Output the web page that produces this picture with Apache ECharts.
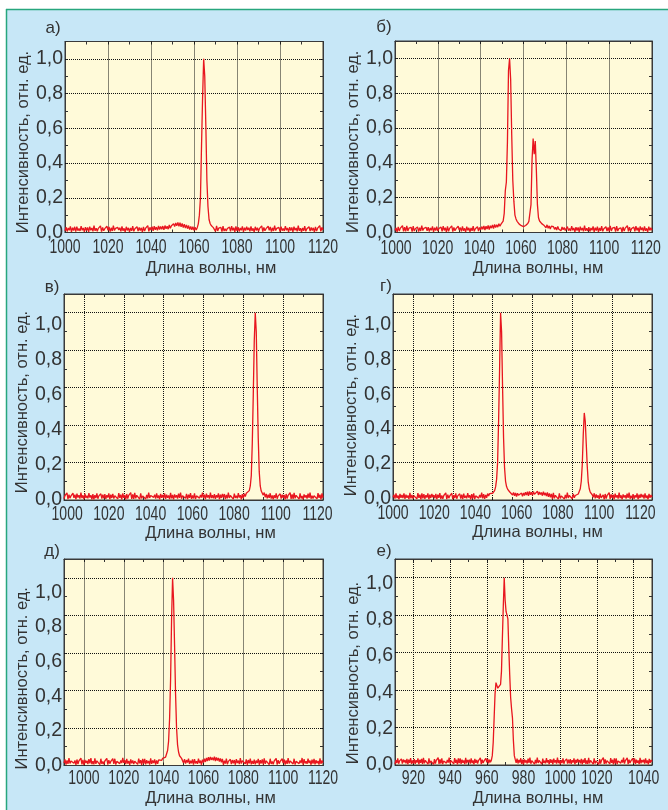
<!DOCTYPE html>
<html>
<head>
<meta charset="utf-8">
<script src="https://cdn.jsdelivr.net/npm/echarts@6/dist/echarts.min.js"></script>
<style>
  html, body { margin: 0; padding: 0; background: #ffffff; }
  #chart { width: 668px; height: 810px; }
</style>
</head>
<body>
<div id="chart"></div>
<script>
// Спектры генерации (интенсивность ×1000, отн. ед.), шаг 0,5 нм.
// Каждая строка массива — 10 отсчётов (5 нм), в комментарии — начальная длина волны.
const STEP_NM = 0.5;
const panelLetters = ['а)', 'б)', 'в)', 'г)', 'д)', 'е)'];
const startNm = [1000, 1000, 990, 990, 990, 910];

const spectrumA = [
  /*1000*/ 9,31,6,26,13,35,4,28,11,33,
  /*1005*/ 5,34,11,23,9,37,13,26,4,31,
  /*1010*/ 11,29,4,34,13,26,7,40,10,25,
  /*1015*/ 7,24,15,38,5,29,10,22,14,36,
  /*1020*/ 13,32,5,27,9,39,11,24,15,30,
  /*1025*/ 14,28,7,35,10,24,3,33,12,27,
  /*1030*/ 4,26,10,36,7,22,14,33,8,29,
  /*1035*/ 12,27,3,32,8,25,16,39,6,30,
  /*1040*/ 14,33,10,36,16,31,12,38,17,34,
  /*1045*/ 18,37,15,40,21,36,19,43,24,39,
  /*1050*/ 30,50,34,55,38,58,36,56,33,52,
  /*1055*/ 28,48,25,44,22,40,17,35,15,33,
  /*1060*/ 12,30,14,28,50,100,200,500,780,1000,
  /*1065*/ 900,620,300,150,75,52,40,34,28,36,
  /*1070*/ 6,38,9,25,15,30,5,36,8,22,
  /*1075*/ 8,23,14,31,6,37,12,28,3,35,
  /*1080*/ 9,31,6,26,13,35,4,28,11,33,
  /*1085*/ 14,28,7,35,10,24,3,33,12,27,
  /*1090*/ 7,24,15,38,5,29,10,22,14,36,
  /*1095*/ 13,32,5,27,9,39,11,24,15,30,
  /*1100*/ 5,34,11,23,9,37,13,26,4,31,
  /*1105*/ 11,29,4,34,13,26,7,40,10,25,
  /*1110*/ 4,26,10,36,7,22,14,33,8,29,
  /*1115*/ 12,27,3,32,8,25,16,39,6,30,
  /*1120*/ 14
];

const spectrumB = [
  /*1000*/ 12,27,3,32,8,25,16,39,6,30,
  /*1005*/ 6,38,9,25,15,30,5,36,8,22,
  /*1010*/ 13,32,5,27,9,39,11,24,15,30,
  /*1015*/ 9,31,6,26,13,35,4,28,11,33,
  /*1020*/ 8,23,14,31,6,37,12,28,3,35,
  /*1025*/ 7,24,15,38,5,29,10,22,14,36,
  /*1030*/ 14,28,7,35,10,24,3,33,12,27,
  /*1035*/ 4,26,10,36,7,22,14,33,8,29,
  /*1040*/ 15,34,18,38,14,36,20,41,17,39,
  /*1045*/ 25,43,22,46,28,44,31,50,36,48,
  /*1050*/ 52,65,110,240,290,520,930,1000,880,560,
  /*1055*/ 300,180,100,78,64,55,48,43,39,36,
  /*1060*/ 34,37,40,45,52,64,75,160,420,540,
  /*1065*/ 450,525,360,160,85,66,57,51,46,42,
  /*1070*/ 40,27,44,24,38,20,36,25,33,18,
  /*1075*/ 30,14,35,19,27,10,32,16,29,12,
  /*1080*/ 5,34,11,23,9,37,13,26,4,31,
  /*1085*/ 11,29,4,34,13,26,7,40,10,25,
  /*1090*/ 9,31,6,26,13,35,4,28,11,33,
  /*1095*/ 4,26,10,36,7,22,14,33,8,29,
  /*1100*/ 6,38,9,25,15,30,5,36,8,22,
  /*1105*/ 12,27,3,32,8,25,16,39,6,30,
  /*1110*/ 8,23,14,31,6,37,12,28,3,35,
  /*1115*/ 14,28,7,35,10,24,3,33,12,27,
  /*1120*/ 13
];

const spectrumV = [
  /*990*/  7,24,15,38,5,29,10,22,14,36,
  /*995*/  11,29,4,34,13,26,7,40,10,25,
  /*1000*/ 5,34,11,23,9,37,13,26,4,31,
  /*1005*/ 4,26,10,36,7,22,14,33,8,29,
  /*1010*/ 9,31,6,26,13,35,4,28,11,33,
  /*1015*/ 8,23,14,31,6,37,12,28,3,35,
  /*1020*/ 12,27,3,32,8,25,16,39,6,30,
  /*1025*/ 6,38,9,25,15,30,5,36,8,22,
  /*1030*/ 13,32,5,27,9,39,11,24,15,30,
  /*1035*/ 14,28,7,35,10,24,3,33,12,27,
  /*1040*/ 10,35,6,28,12,24,5,38,9,27,
  /*1045*/ 3,30,13,25,8,34,11,39,7,23,
  /*1050*/ 15,26,9,33,4,29,12,37,6,24,
  /*1055*/ 8,36,5,22,14,31,10,27,13,40,
  /*1060*/ 11,29,4,34,13,26,7,40,10,25,
  /*1065*/ 9,31,6,26,13,35,4,28,11,33,
  /*1070*/ 13,32,5,27,9,39,11,24,15,30,
  /*1075*/ 5,34,11,23,9,37,13,26,4,31,
  /*1080*/ 10,34,18,36,30,42,50,75,130,300,
  /*1085*/ 560,850,1000,900,600,330,150,75,48,38,
  /*1090*/ 26,40,14,33,9,28,12,36,7,25,
  /*1095*/ 4,26,10,36,7,22,14,33,8,29,
  /*1100*/ 12,27,3,32,8,25,16,39,6,30,
  /*1105*/ 6,38,9,25,15,30,5,36,8,22,
  /*1110*/ 3,30,13,25,8,34,11,39,7,23,
  /*1115*/ 8,23,14,31,6,37,12,28,3,35,
  /*1120*/ 12
];

const spectrumG = [
  /*990*/  14,28,7,35,10,24,3,33,12,27,
  /*995*/  10,35,6,28,12,24,5,38,9,27,
  /*1000*/ 8,23,14,31,6,37,12,28,3,35,
  /*1005*/ 9,31,6,26,13,35,4,28,11,33,
  /*1010*/ 15,26,9,33,4,29,12,37,6,24,
  /*1015*/ 7,24,15,38,5,29,10,22,14,36,
  /*1020*/ 4,26,10,36,7,22,14,33,8,29,
  /*1025*/ 5,34,11,23,9,37,13,26,4,31,
  /*1030*/ 8,36,5,22,14,31,10,27,13,40,
  /*1035*/ 9,31,6,27,12,34,22,34,26,38,
  /*1040*/ 36,42,50,70,110,200,420,700,1000,900,
  /*1045*/ 600,330,170,100,72,58,48,44,38,42,
  /*1050*/ 27,40,22,38,18,36,25,33,15,37,
  /*1055*/ 20,38,24,42,26,44,22,46,28,41,
  /*1060*/ 25,45,30,39,24,47,27,43,29,40,
  /*1065*/ 23,44,26,38,21,40,17,35,14,33,
  /*1070*/ 6,38,9,25,15,30,5,36,8,22,
  /*1075*/ 13,32,5,27,9,39,11,24,15,30,
  /*1080*/ 7,33,12,24,22,26,32,42,60,100,
  /*1085*/ 190,350,465,420,300,180,95,60,42,36,
  /*1090*/ 28,14,36,9,30,12,25,6,34,11,
  /*1095*/ 12,27,3,32,8,25,16,39,6,30,
  /*1100*/ 11,29,4,34,13,26,7,40,10,25,
  /*1105*/ 3,30,13,25,8,34,11,39,7,23,
  /*1110*/ 9,31,6,26,13,35,4,28,11,33,
  /*1115*/ 14,28,7,35,10,24,3,33,12,27,
  /*1120*/ 15
];

const spectrumD = [
  /*990*/  13,32,5,27,9,39,11,24,15,30,
  /*995*/  12,27,3,32,8,25,16,39,6,30,
  /*1000*/ 3,30,13,25,8,34,11,39,7,23,
  /*1005*/ 6,38,9,25,15,30,5,36,8,22,
  /*1010*/ 7,24,15,38,5,29,10,22,14,36,
  /*1015*/ 8,36,5,22,14,31,10,27,13,40,
  /*1020*/ 14,28,7,35,10,24,3,33,12,27,
  /*1025*/ 8,23,14,31,6,37,12,28,3,35,
  /*1030*/ 10,35,6,28,12,24,5,38,9,27,
  /*1035*/ 13,32,5,27,9,30,22,35,27,38,
  /*1040*/ 33,42,45,55,80,130,250,460,780,1000,
  /*1045*/ 880,640,380,200,110,72,52,44,38,30,
  /*1050*/ 14,34,10,29,16,37,8,25,12,33,
  /*1055*/ 5,34,11,23,9,37,13,26,4,31,
  /*1060*/ 16,36,19,40,24,44,26,46,30,42,
  /*1065*/ 28,47,24,43,27,40,21,38,17,35,
  /*1070*/ 4,26,10,36,7,22,14,33,8,29,
  /*1075*/ 11,29,4,34,13,26,7,40,10,25,
  /*1080*/ 15,26,9,33,4,29,12,37,6,24,
  /*1085*/ 9,31,6,26,13,35,4,28,11,33,
  /*1090*/ 6,38,9,25,15,30,5,36,8,22,
  /*1095*/ 7,24,15,38,5,29,10,22,14,36,
  /*1100*/ 13,32,5,27,9,39,11,24,15,30,
  /*1105*/ 8,36,5,22,14,31,10,27,13,40,
  /*1110*/ 5,34,11,23,9,37,13,26,4,31,
  /*1115*/ 10,35,6,28,12,24,5,38,9,27,
  /*1120*/ 14
];

const spectrumE = [
  /*910*/  4,26,10,36,7,22,14,33,8,29,
  /*915*/  15,26,9,33,4,29,12,37,6,24,
  /*920*/  9,31,6,26,13,35,4,28,11,33,
  /*925*/  6,38,9,25,15,30,5,36,8,22,
  /*930*/  12,27,3,32,8,25,16,39,6,30,
  /*935*/  8,36,5,22,14,31,10,27,13,40,
  /*940*/  8,23,14,31,6,37,12,28,3,35,
  /*945*/  10,35,6,28,12,24,5,38,9,27,
  /*950*/  14,28,7,35,10,24,3,33,12,27,
  /*955*/  7,24,15,38,5,29,10,22,14,36,
  /*960*/  14,33,9,28,15,26,50,120,250,380,
  /*965*/  440,430,410,400,420,430,500,680,850,1000,
  /*970*/  880,820,830,780,620,480,360,300,250,130,
  /*975*/  50,30,12,34,8,27,13,36,6,29,
  /*980*/  3,30,13,25,8,34,11,39,7,23,
  /*985*/  13,32,5,27,9,39,11,24,15,30,
  /*990*/  5,34,11,23,9,37,13,26,4,31,
  /*995*/  11,29,4,34,13,26,7,40,10,25,
  /*1000*/ 4,26,10,36,7,22,14,33,8,29,
  /*1005*/ 9,31,6,26,13,35,4,28,11,33,
  /*1010*/ 15,26,9,33,4,29,12,37,6,24,
  /*1015*/ 6,38,9,25,15,30,5,36,8,22,
  /*1020*/ 12,27,3,32,8,25,16,39,6,30,
  /*1025*/ 8,23,14,31,6,37,12,28,3,35,
  /*1030*/ 8,36,5,22,14,31,10,27,13,40,
  /*1035*/ 7,24,15,38,5,29,10,22,14,36,
  /*1040*/ 10,35,6,28,12,24,5,38,9,27,
  /*1045*/ 14,28,7,35,10,24,3,33,12,27,
  /*1050*/ 18
];

// Подписи делений и линии сетки
const xLabelsMain = [1000, 1020, 1040, 1060, 1080, 1100, 1120];
const xLabelsE = [920, 940, 960, 980, 1000, 1020, 1040];
const yLabels = [0, 0.2, 0.4, 0.6, 0.8, 1.0];
const xGridAB = [1020, 1040, 1060, 1080, 1100];
const xGridVGD = [1000, 1020, 1040, 1060, 1080, 1100];
const xGridE = [920, 940, 960, 980, 1000, 1020, 1040];
const yGrid = [0.2, 0.4, 0.6, 0.8, 1.0];

const spectra = [spectrumA, spectrumB, spectrumV, spectrumG, spectrumD, spectrumE];
const xGrids = [xGridAB, xGridAB, xGridVGD, xGridVGD, xGridVGD, xGridE];
const xLabelSets = [xLabelsMain, xLabelsMain, xLabelsMain, xLabelsMain, xLabelsMain, xLabelsE];

// Геометрия панелей (px) и диапазоны осей
const layout = [
  { left: 65,  top: 41.5, width: 258, height: 191,   x: [1000, 1120], xLab: [1000, 1120],    yLab: [0, 1.1],       xLabelDy: 15.5, xGap: 27,   xPad: 34, yGap: 32.5, yPad: 10, letter: [53, 28] },
  { left: 395, top: 41,   width: 257, height: 191.5, x: [1000, 1120], xLab: [999.5, 1123],   yLab: [0, 1.1],       xLabelDy: 16,   xGap: 27,   xPad: 29, yGap: 33,   yPad: 10, letter: [384, 27] },
  { left: 64,  top: 294,  width: 259, height: 206,   x: [990, 1120],  xLab: [998.5, 1122.6], yLab: [0, 1.175],     xLabelDy: 15,   xGap: 24.5, xPad: 34, yGap: 32,   yPad: 10, letter: [52, 287] },
  { left: 393, top: 294,  width: 259, height: 206,   x: [990, 1120],  xLab: [1000, 1125.6],  yLab: [-0.01, 1.177], xLabelDy: 13.5, xGap: 23.5, xPad: 30, yGap: 31.5, yPad: 16, letter: [386, 286] },
  { left: 64,  top: 559,  width: 259, height: 206.5, x: [990, 1120],  xLab: [990, 1120],     yLab: [0, 1.193],     xLabelDy: 13.5, xGap: 24,   xPad: 34, yGap: 32,   yPad: 32, letter: [52, 551] },
  { left: 395, top: 559,  width: 257, height: 206,   x: [910, 1050],  xLab: [910, 1050],     yLab: [0, 1.133],     xLabelDy: 14,   xGap: 24.5, xPad: 29, yGap: 33,   yPad: 22, letter: [384, 551], lastLabelShift: 10 }
];

const FONT = "'Liberation Sans', Arial, sans-serif";
const TEXT = '#333333';
const X_LABEL_SIZE = 19.5;   // узкие цифры шкалы длины волны
const X_LABEL_SQUEEZE = 0.72;
const commaDecimal = v => v.toFixed(1).replace('.', ',');

const grids = [], xAxes = [], yAxes = [], series = [];
const graphics = [
  { type: 'rect', shape: { x: 0, y: 0, width: 668, height: 9 }, style: { fill: '#ffffff' }, silent: true },
  { type: 'rect', shape: { x: 0, y: 0, width: 6, height: 810 }, style: { fill: '#ffffff' }, silent: true },
  { type: 'line', shape: { x1: 6, y1: 9.5, x2: 668, y2: 9.5 }, style: { stroke: '#27a67e', lineWidth: 1.5 }, silent: true },
  { type: 'line', shape: { x1: 6.5, y1: 9, x2: 6.5, y2: 810 }, style: { stroke: '#27a67e', lineWidth: 1.5 }, silent: true }
];

layout.forEach((p, i) => {
  grids.push({
    left: p.left, top: p.top, width: p.width, height: p.height,
    show: true, backgroundColor: '#fffad9', borderColor: '#3a3a3a', borderWidth: 1
  });

  const ticks = { show: true, inside: true, length: 3, lineStyle: { color: '#333', width: 1 } };
  const edge = { show: true, onZero: false, lineStyle: { color: '#3a3a3a', width: 1 } };
  const hidden = { axisLabel: { show: false }, splitLine: { show: false } };

  // нижняя (данные) и верхняя оси длины волны — мелкие деления через 10 нм
  xAxes.push({ type: 'value', gridIndex: i, position: 'bottom', min: p.x[0], max: p.x[1], interval: 10, axisLine: edge, axisTick: ticks, ...hidden });
  xAxes.push({ type: 'value', gridIndex: i, position: 'top', min: p.x[0], max: p.x[1], interval: 10, axisLine: edge, axisTick: ticks, ...hidden });
  // шкала подписей длины волны (сами подписи — сжатый текст ниже)
  xAxes.push({
    type: 'value', gridIndex: i, position: 'bottom', min: p.xLab[0], max: p.xLab[1],
    axisLine: { show: false, onZero: false }, axisTick: { show: false }, splitLine: { show: false },
    axisLabel: { show: false },
    name: 'Длина волны, нм', nameLocation: 'middle', nameGap: p.xGap,
    nameTextStyle: { fontFamily: FONT, fontSize: 16.5, color: TEXT, padding: [0, 0, 0, p.xPad] }
  });

  // левая (данные) и правая оси интенсивности — деления через 0,1
  yAxes.push({ type: 'value', gridIndex: i, position: 'left', min: 0, max: 1.1, interval: 0.1, axisLine: edge, axisTick: ticks, ...hidden });
  yAxes.push({ type: 'value', gridIndex: i, position: 'right', min: 0, max: 1.1, interval: 0.1, axisLine: edge, axisTick: ticks, ...hidden });
  yAxes.push({
    type: 'value', gridIndex: i, position: 'left', min: p.yLab[0], max: p.yLab[1],
    axisLine: { show: false, onZero: false }, axisTick: { show: false }, splitLine: { show: false },
    axisLabel: { show: true, customValues: yLabels, margin: 2, fontFamily: FONT, fontSize: 19.5, color: TEXT, formatter: commaDecimal },
    name: 'Интенсивность, отн. ед.', nameLocation: 'middle', nameRotate: 90, nameGap: p.yGap,
    nameTextStyle: { fontFamily: FONT, fontSize: 16.5, color: TEXT, padding: [0, p.yPad, 0, 0] }
  });

  // точечная сетка
  series.push({
    type: 'line', xAxisIndex: 3 * i, yAxisIndex: 3 * i, data: [], silent: true, z: 1,
    markLine: {
      silent: true, z: 1, symbol: ['none', 'none'], label: { show: false }, animation: false,
      lineStyle: { color: '#111111', type: 'dotted', width: 1 },
      emphasis: { disabled: true },
      data: [...xGrids[i].map(v => ({ xAxis: v })), ...yGrid.map(v => ({ yAxis: v }))]
    }
  });

  // спектр
  series.push({
    type: 'line', xAxisIndex: 3 * i, yAxisIndex: 3 * i, z: 3,
    data: spectra[i].map((v, k) => [startNm[i] + k * STEP_NM, v / 1000]),
    showSymbol: false, symbol: 'none', clip: true,
    lineStyle: { color: '#e8161f', width: 1.3 }
  });

  graphics.push({
    type: 'text', x: p.letter[0], y: p.letter[1],
    style: { text: panelLetters[i], fill: TEXT, font: '17px ' + FONT, textAlign: 'center', textVerticalAlign: 'middle' },
    silent: true
  });
});

const chart = echarts.init(document.getElementById('chart'), null, { renderer: 'canvas' });
chart.setOption({
  animation: false,
  backgroundColor: '#c7e7f7',
  grid: grids,
  xAxis: xAxes,
  yAxis: yAxes,
  series: series,
  graphic: graphics
});

// Подписи шкалы длины волны: позиция берётся из оси подписей, текст сжат по горизонтали
const tickTexts = [];
layout.forEach((p, i) => {
  const baseY = chart.convertToPixel({ yAxisIndex: 3 * i }, 0);
  const labels = xLabelSets[i];
  labels.forEach((v, k) => {
    const px = chart.convertToPixel({ xAxisIndex: 3 * i + 2 }, v);
    const nudge = (p.lastLabelShift && k === labels.length - 1) ? p.lastLabelShift : 0;
    tickTexts.push({
      type: 'text', x: px + nudge, y: baseY + p.xLabelDy, scaleX: X_LABEL_SQUEEZE, silent: true,
      style: { text: String(v), fill: TEXT, font: X_LABEL_SIZE + 'px ' + FONT, textAlign: 'center', textVerticalAlign: 'middle' }
    });
  });
});
chart.setOption({ graphic: graphics.concat(tickTexts) });
</script>
</body>
</html>
